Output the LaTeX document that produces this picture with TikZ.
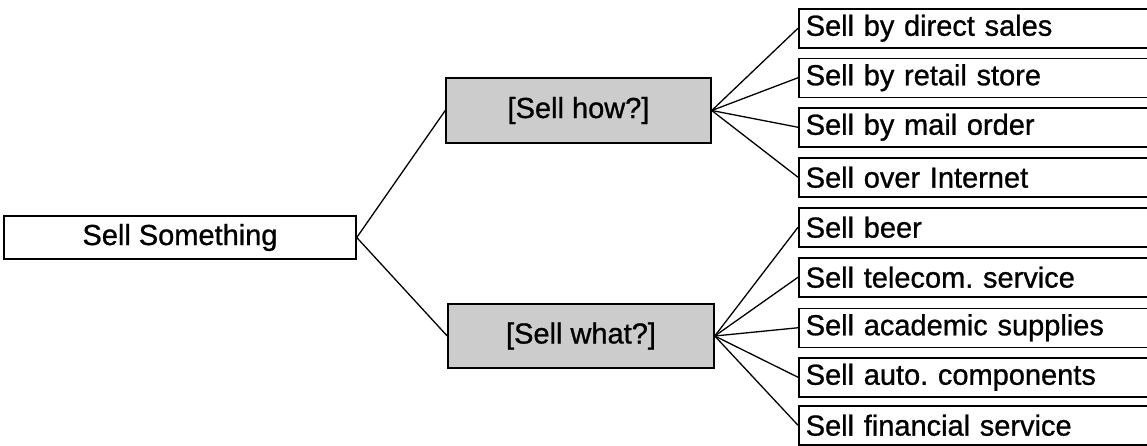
\documentclass[tikz,border=0pt]{standalone}
\usepackage{fontspec}
\setmainfont{Liberation Sans}[BoldFont=Liberation Sans, BoldFeatures={FakeBold=0.9}]
\frenchspacing
\begin{document}
\begin{tikzpicture}[x=1pt,y=-1pt,
  every node/.style={font=\fontsize{29}{33}\selectfont\bfseries},
  goal/.style={draw, line width=1.5pt, rectangle, inner sep=0pt},
  question/.style={goal, fill=black!20},
  leaf/.style={draw, line width=1.5pt, rectangle, anchor=north west,
    minimum height=39pt, text width=386pt, align=left, inner xsep=7pt, inner ysep=0pt},
  link/.style={line width=1.3pt}]
\useasboundingbox (0,0) rectangle (1147,445);
\clip (0,0) rectangle (1147,445);

% root and the two refinement questions
\node[goal, minimum width=352pt, minimum height=43pt] (root) at (180,237.5) {Sell Something};
\node[question, minimum width=265pt, minimum height=65pt] (how) at (578.5,110.5) {[Sell how?]};
\node[question, minimum width=266pt, minimum height=64pt] (what) at (581,336) {[Sell what?]};

% alternatives for each question
\node[leaf] (l1) at (798,8) {Sell by direct sales};
\node[leaf] (l2) at (798,57.5) {Sell by retail store};
\node[leaf] (l3) at (798,107) {Sell by mail order};
\node[leaf] (l4) at (798,157) {Sell over Internet};
\node[leaf] (l5) at (798,207) {Sell beer};
\node[leaf] (l6) at (798,257) {Sell telecom. service};
\node[leaf] (l7) at (798,307.5) {Sell academic supplies};
\node[leaf] (l8) at (798,357) {Sell auto. components};
\node[leaf] (l9) at (798,405) {Sell financial service};

% connectors
\draw[link] (root.east) -- (how.west);
\draw[link] (root.east) -- (what.west);
\foreach \n in {l1,l2,l3,l4}
  \draw[link] (how.east) -- (\n.west);
\foreach \n in {l5,l6,l7,l8,l9}
  \draw[link] (what.east) -- (\n.west);
\end{tikzpicture}
\end{document}
